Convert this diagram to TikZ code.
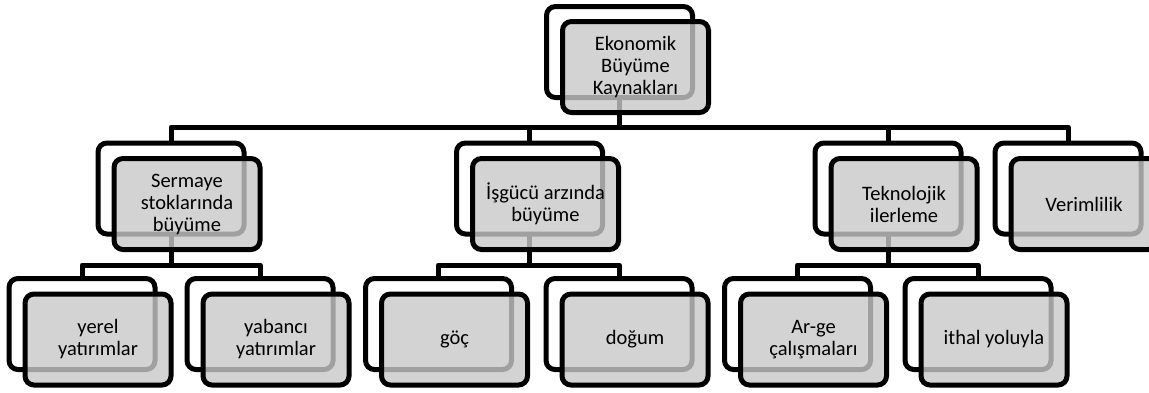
\documentclass[tikz,border=0pt]{standalone}
\usepackage{fontspec}
\setmainfont{Carlito}
\definecolor{frontfill}{RGB}{200,200,200}
\tikzset{
  backbox/.style={draw=black, line width=5pt, fill=white, rounded corners=9pt,
    minimum width=146pt, minimum height=91pt, inner sep=0pt, outer sep=0pt},
  frontbox/.style={draw=black, line width=5pt, fill=frontfill, fill opacity=0.8,
    text opacity=1, rounded corners=9pt, minimum width=146pt, minimum height=91pt,
    inner sep=0pt, outer sep=0pt, align=center,
    font=\fontsize{20.5}{22}\selectfont},
  conn/.style={draw=black, line width=5pt, line join=round},
}
\begin{document}
\begin{tikzpicture}[x=1pt,y=-1pt]
\useasboundingbox (0,0) rectangle (1149,392);
\clip (0,0) rectangle (1149,392);
% back boxes
\node[backbox] (top) at (619.5,52) {};
\node[backbox] (s1) at (171,188.5) {};
\node[backbox] (s2) at (529.5,188.5) {};
\node[backbox] (s3) at (888,188.5) {};
\node[backbox] (s4) at (1068,188.5) {};
\node[backbox] (c1) at (82,324) {};
\node[backbox] (c2) at (260,324) {};
\node[backbox] (c3) at (438.5,324) {};
\node[backbox] (c4) at (619,324) {};
\node[backbox] (c5) at (797.5,324) {};
\node[backbox] (c6) at (978,324) {};
% bar junctions
\coordinate (b0) at (619.5,127);
\coordinate (b1) at (171,265);
\coordinate (b2) at (529.5,265);
\coordinate (b3) at (888,265);
% connectors
\draw[conn] (top.south) -- (b0) -| (s1.north);
\draw[conn] (top.south) -- (b0) -| (s2.north);
\draw[conn] (top.south) -- (b0) -| (s3.north);
\draw[conn] (top.south) -- (b0) -| (s4.north);
\draw[conn] (s1.south) -- (b1) -| (c1.north);
\draw[conn] (s1.south) -- (b1) -| (c2.north);
\draw[conn] (s2.south) -- (b2) -| (c3.north);
\draw[conn] (s2.south) -- (b2) -| (c4.north);
\draw[conn] (s3.south) -- (b3) -| (c5.north);
\draw[conn] (s3.south) -- (b3) -| (c6.north);
% front boxes
\node[frontbox] (topf) at (635.5,67) {Ekonomik\\Büyüme\\Kaynakları};
\node[frontbox] (s1f) at (187,204) {Sermaye\\stoklarında\\büyüme};
\node[frontbox] (s2f) at (545.5,204) {İşgücü arzında\\büyüme};
\node[frontbox] (s3f) at (904,204) {Teknolojik\\ilerleme};
\node[frontbox] (s4f) at (1084,204) {Verimlilik};
\node[frontbox] (c1f) at (98,339.5) {yerel\\yatırımlar};
\node[frontbox] (c2f) at (276,339.5) {yabancı\\yatırımlar};
\node[frontbox] (c3f) at (454.5,339.5) {göç};
\node[frontbox] (c4f) at (635,339.5) {doğum};
\node[frontbox] (c5f) at (813.5,339.5) {Ar-ge\\çalışmaları};
\node[frontbox] (c6f) at (994,339.5) {ithal yoluyla};
\end{tikzpicture}
\end{document}
